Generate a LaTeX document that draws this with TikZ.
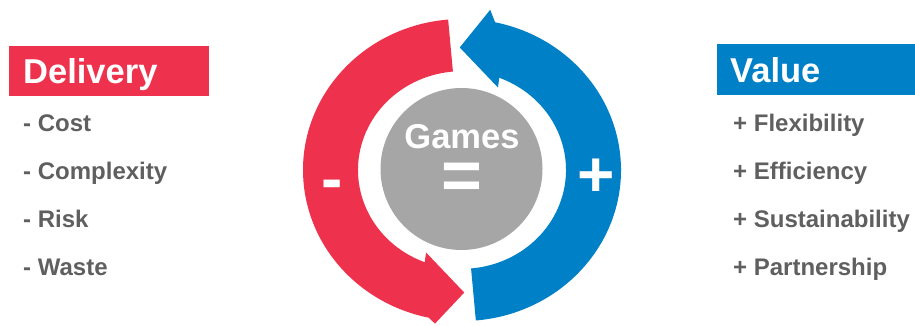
\documentclass[tikz,border=0pt]{standalone}
\usepackage{fontspec}
\setmainfont{Liberation Sans}
\usetikzlibrary{positioning}
\definecolor{delivred}{RGB}{238,50,78}
\definecolor{valueblue}{RGB}{0,128,198}
\definecolor{gamesgray}{RGB}{166,166,166}
\definecolor{itemgray}{RGB}{95,95,95}
\tikzstyle{every node}=[inner sep=0pt,anchor=base west]
\tikzstyle{head}=[text=white,font=\fontsize{34.5}{40}\selectfont\bfseries]
\tikzstyle{item}=[text=itemgray,font=\fontsize{24}{28}\selectfont\bfseries]
\tikzstyle{sign}=[text=white,font=\fontsize{64}{70}\selectfont\bfseries,anchor=center]
\newcommand{\itemgap}{48pt}

\begin{document}
\begin{tikzpicture}[x=1pt,y=1pt]
  \useasboundingbox (0,0) rectangle (915,325);

  % the two half-ring arrows
  \begin{scope}[shift={(462,155)},yscale=0.95]
    \fill[delivred] (95:159) arc[start angle=95,end angle=258,radius=159]
      -- (260.5:164) -- (271:129) -- (247.5:94) -- (249:104)
      arc[start angle=249,end angle=95,radius=104] -- cycle;
    \fill[valueblue] (-85:159) arc[start angle=-85,end angle=78,radius=159]
      -- (80.5:171) -- (91:129) -- (67.5:94) -- (69:104)
      arc[start angle=69,end angle=-85,radius=104] -- cycle;
  \end{scope}
  \fill[gamesgray] (461.5,156) circle[radius=81];

  \node[head,anchor=base] (games) at (462,177) {Games};
  \node[sign,font=\fontsize{70}{76}\selectfont\bfseries] (eq) at (462,144) {=};
  \node[sign] (minus) at (332.5,135) {-};
  \node[sign] (plus) at (596.5,147.5) {+};

  % left list
  \fill[delivred] (9,229) rectangle (209,279);
  \node[head] (delivery) at (23,241.7) {Delivery};
  \node[item] (cost) at (23,193.5) {- Cost};
  \node[item] (complexity) at ([yshift=-\itemgap]cost.base west) {- Complexity};
  \node[item] (risk) at ([yshift=-\itemgap]complexity.base west) {- Risk};
  \node[item] (waste) at ([yshift=-\itemgap]risk.base west) {- Waste};

  % right list
  \fill[valueblue] (717,230) rectangle (915,281);
  \node[head] (value) at (730,243) {Value};
  \node[item] (flex) at (733,193.5) {+ Flexibility};
  \node[item] (eff) at ([yshift=-\itemgap]flex.base west) {+ Efficiency};
  \node[item] (sust) at ([yshift=-\itemgap]eff.base west) {+ Sustainability};
  \node[item] (partner) at ([yshift=-\itemgap]sust.base west) {+ Partnership};
\end{tikzpicture}
\end{document}
